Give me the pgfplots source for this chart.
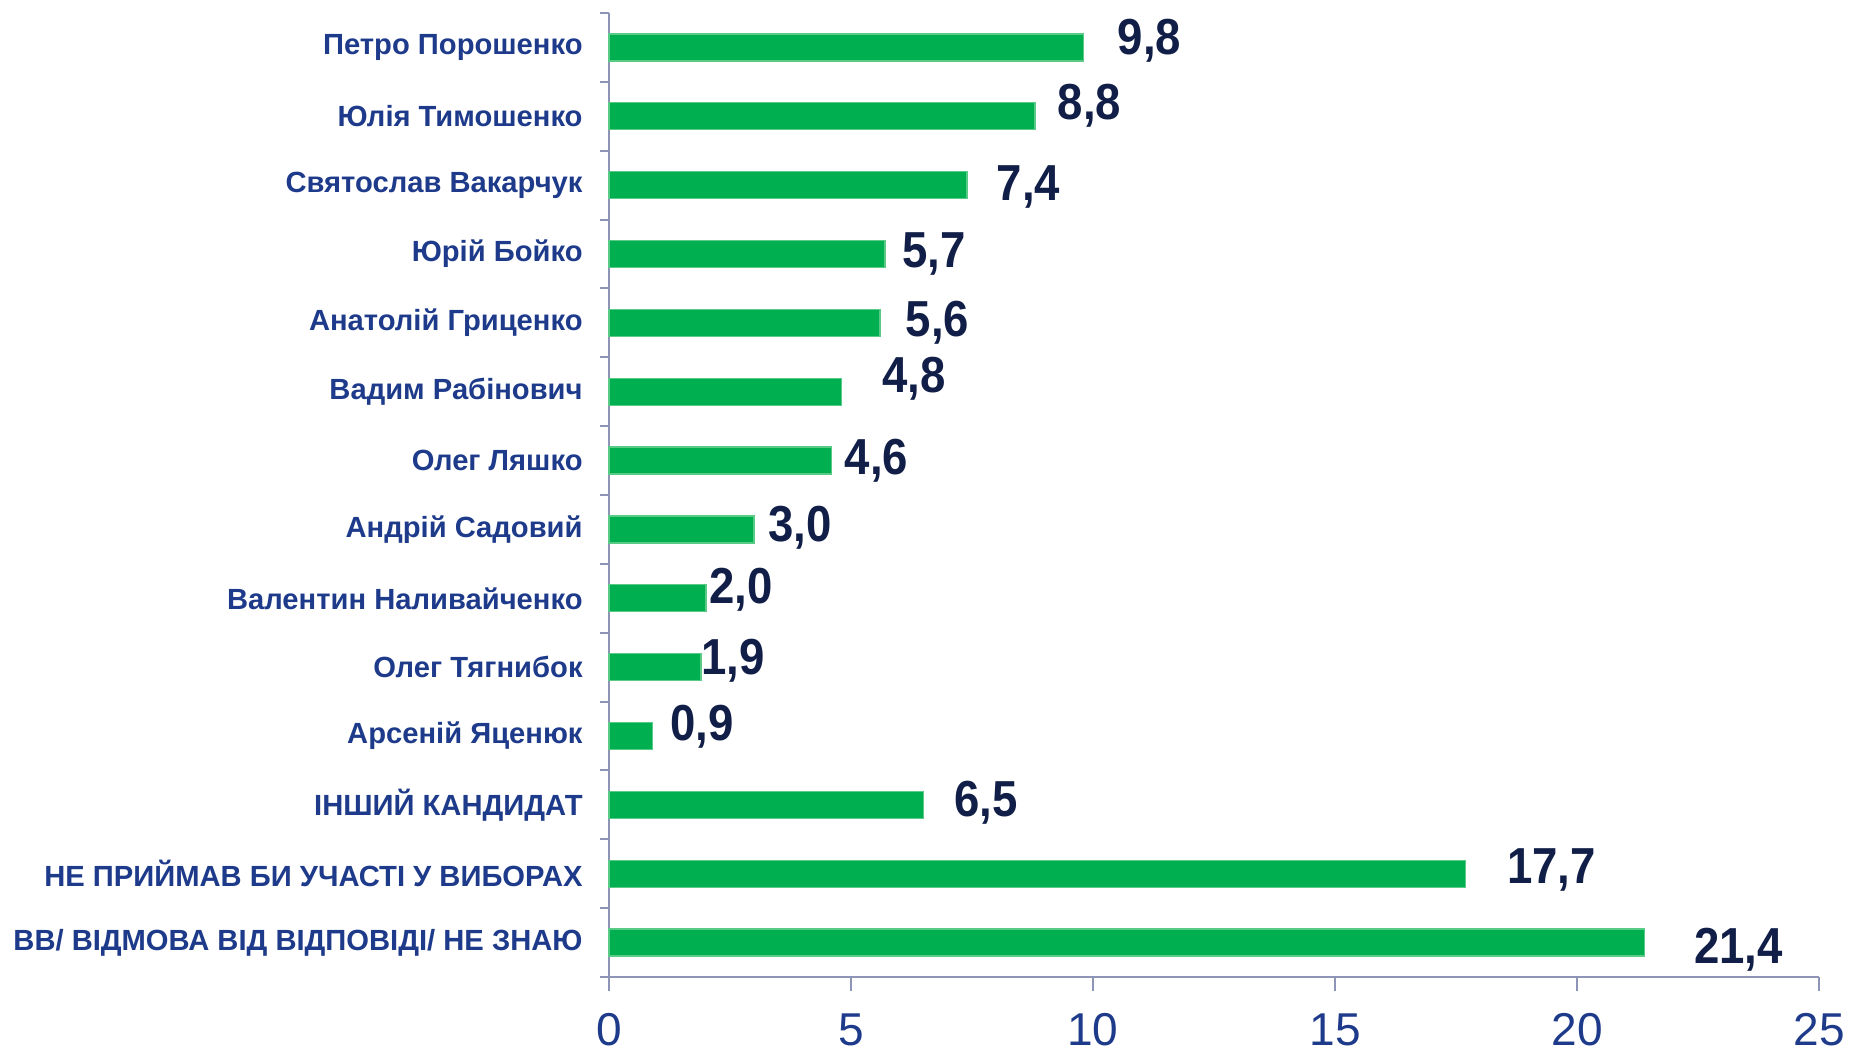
\documentclass[border=0pt]{standalone}
\usepackage{fontspec}
\setmainfont{Liberation Sans}
\newfontfamily\valfont{Liberation Sans}[FakeStretch=0.9]
\usepackage{pgfplots}
\pgfplotsset{compat=1.18}
\definecolor{bargreen}{HTML}{00B050}
\definecolor{baredge}{HTML}{5ACB86}
\definecolor{labelblue}{HTML}{1E3A8A}
\definecolor{valnavy}{HTML}{111F48}
\definecolor{axisgray}{HTML}{8E94B6}
\newcommand{\val}[3]{\node[font=\valfont\bfseries\fontsize{14.4}{16}\selectfont,text=valnavy] at (axis cs:#1,#2) {#3};}

\begin{document}
\begin{tikzpicture}
\begin{axis}[name=ax,scale only axis,width=12.10cm,height=9.64cm,
  xbar,bar width=0.27cm,
  xmin=0,xmax=25,ymin=-0.5,ymax=13.5,y dir=reverse,enlargelimits=false,
  axis x line*=bottom,axis y line*=left,
  axis line style={axisgray,line width=0.6pt},
  tick style={axisgray,line width=0.6pt},
  tick align=outside,
  major tick length=0.14cm,minor tick length=0.087cm,
  major y tick style={draw=none},
  xtick={0,5,...,25},
  ytick={0,...,13},
  minor ytick={-0.5,0.5,...,13.5},
  yticklabels={Петро Порошенко,Юлія Тимошенко,Святослав Вакарчук,Юрій Бойко,Анатолій Гриценко,Вадим Рабінович,Олег Ляшко,Андрій Садовий,Валентин Наливайченко,Олег Тягнибок,Арсеній Яценюк,ІНШИЙ КАНДИДАТ,НЕ ПРИЙМАВ БИ УЧАСТІ У ВИБОРАХ,ВВ/ ВІДМОВА ВІД ВІДПОВІДІ/ НЕ ЗНАЮ},
  yticklabel style={font=\bfseries\fontsize{8.3}{10}\selectfont,text=labelblue,xshift=0cm},
  xticklabel style={font=\fontsize{13.1}{15}\selectfont,text=labelblue,yshift=-0.1cm},
  /pgf/number format/assume math mode=true,
  clip=false]
\addplot[fill=bargreen,draw=baredge,line width=0.4pt] coordinates {
 (9.8,0) (8.8,1) (7.4,2) (5.7,3) (5.6,4) (4.8,5) (4.6,6) (3.0,7) (2.0,8) (1.9,9) (0.9,10) (6.5,11) (17.7,12) (21.4,13)};
\val{11.17}{-0.09}{9,8}
\val{9.93}{0.85}{8,8}
\val{8.67}{2.02}{7,4}
\val{6.72}{3}{5,7}
\val{6.79}{4}{5,6}
\val{6.30}{4.81}{4,8}
\val{5.53}{6}{4,6}
\val{3.94}{6.97}{3,0}
\val{2.73}{7.88}{2,0}
\val{2.56}{8.91}{1,9}
\val{1.92}{9.86}{0,9}
\val{7.79}{10.97}{6,5}
\val{19.47}{11.95}{17,7}
\val{23.34}{13.10}{21,4}
\end{axis}
\pgfresetboundingbox
\path ([shift={(-6.09cm,-0.78cm)}]ax.south west) rectangle ([shift={(0.30cm,0.13cm)}]ax.north east);
\end{tikzpicture}
\end{document}
